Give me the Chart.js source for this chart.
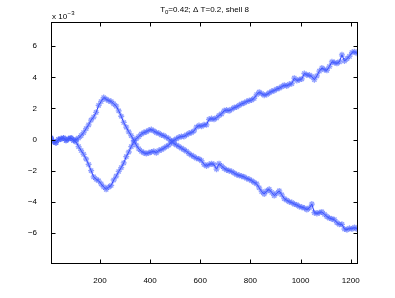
<!DOCTYPE html>
<html lang="en">
<head>
<meta charset="UTF-8">
<title>shell 8</title>
<script src="https://cdn.jsdelivr.net/npm/chart.js"></script>
<style>
    body { margin: 0; background: #fff; }
    #wrap { width: 395px; height: 298px; position: relative; }
</style>
</head>
<body>
<div id="wrap"><canvas id="chart"></canvas></div>
<script>
// sample positions (x axis)
const sampleX = [5, 15, 25, 35, 45, 55, 65, 75, 85, 95, 105, 115, 125, 135, 145, 155, 165, 175, 185, 195,
    205, 215, 225, 235, 245, 255, 265, 275, 285, 295, 305, 315, 325, 335, 345, 355, 365, 375, 385, 395,
    405, 415, 425, 435, 445, 455, 465, 475, 485, 495, 505, 515, 525, 535, 545, 555, 565, 575, 585, 595,
    605, 615, 625, 635, 645, 655, 665, 675, 685, 695, 705, 715, 725, 735, 745, 755, 765, 775, 785, 795,
    805, 815, 825, 835, 845, 855, 865, 875, 885, 895, 905, 915, 925, 935, 945, 955, 965, 975, 985, 995,
    1005, 1015, 1025, 1035, 1045, 1055, 1065, 1075, 1085, 1095, 1105, 1115, 1125, 1135, 1145, 1155, 1165, 1175, 1185, 1195,
    1205, 1215, 1225];

// values in units of 1e-3
const seriesA = [0.1, -0.1, -0.2, 0.0, 0.05, 0.1, -0.05, 0.05, 0.1, -0.05, 0.0, 0.1, 0.25, 0.45, 0.7, 0.95, 1.25, 1.45, 1.75, 2.2,
    2.45, 2.7, 2.6, 2.5, 2.45, 2.3, 2.15, 1.85, 1.5, 1.1, 0.8, 0.5, 0.25, -0.05, -0.35, -0.6, -0.75, -0.85, -0.9, -0.85,
    -0.8, -0.75, -0.85, -0.7, -0.65, -0.55, -0.45, -0.35, -0.15, -0.05, 0.05, 0.15, 0.2, 0.2, 0.3, 0.4, 0.45, 0.55, 0.8, 0.9,
    0.85, 0.95, 0.95, 1.3, 1.35, 1.3, 1.4, 1.55, 1.65, 1.85, 1.9, 1.85, 1.95, 2.05, 2.1, 2.2, 2.3, 2.35, 2.45, 2.5,
    2.55, 2.65, 2.9, 3.05, 2.95, 2.85, 2.9, 3.0, 3.1, 3.15, 3.25, 3.3, 3.4, 3.5, 3.45, 3.55, 3.6, 3.95, 3.8, 3.85,
    3.9, 4.25, 4.15, 4.15, 4.05, 3.85, 4.1, 4.4, 4.6, 4.5, 4.45, 4.7, 5.0, 4.95, 4.9, 5.0, 5.45, 5.05, 5.2, 5.35,
    5.6, 5.65, 5.55];

const seriesB = [0.1, -0.15, -0.2, 0.0, 0.05, 0.1, -0.05, 0.05, 0.1, -0.05, -0.15, -0.45, -0.7, -0.95, -1.25, -1.6, -2.0, -2.4, -2.55, -2.65,
    -2.85, -3.05, -3.2, -3.05, -2.95, -2.6, -2.35, -2.05, -1.8, -1.5, -1.1, -0.8, -0.45, -0.15, 0.05, 0.2, 0.35, 0.45, 0.5, 0.6,
    0.65, 0.55, 0.45, 0.4, 0.3, 0.25, 0.15, 0.05, -0.1, -0.25, -0.35, -0.45, -0.55, -0.65, -0.75, -0.9, -1.0, -1.1, -1.2, -1.25,
    -1.35, -1.6, -1.7, -1.6, -1.55, -1.6, -1.9, -1.55, -1.7, -1.85, -1.95, -2.0, -2.05, -2.15, -2.25, -2.3, -2.35, -2.4, -2.5, -2.55,
    -2.65, -2.75, -2.85, -3.1, -3.35, -3.5, -3.3, -3.2, -3.4, -3.6, -3.45, -3.3, -3.55, -3.8, -3.9, -4.0, -4.05, -4.15, -4.2, -4.3,
    -4.35, -4.4, -4.5, -4.4, -4.15, -4.7, -4.75, -4.7, -4.65, -4.8, -4.95, -5.05, -5.1, -5.15, -5.35, -5.45, -5.45, -5.75, -5.8, -5.7,
    -5.75, -5.65, -5.75];

const xTicks = [200, 400, 600, 800, 1000, 1200];
const yTicks = [-6, -4, -2, 0, 2, 4, 6];

const FONT = 'Liberation Sans, Arial, sans-serif';

function toPoints(ys) {
    return sampleX.map((x, i) => ({ x: x, y: ys[i] }));
}

function lineSet(ys) {
    return {
        data: toPoints(ys),
        borderColor: 'rgb(40,55,255)',
        borderWidth: 1,
        pointStyle: 'star',
        pointRadius: 3,
        pointBorderWidth: 1.3,
        pointBorderColor: 'rgba(70,95,255,0.6)',
        pointBackgroundColor: 'rgba(70,95,255,0.6)',
        tension: 0
    };
}

// MATLAB style frame, inward ticks, title and exponent label
const matlabFrame = {
    id: 'matlabFrame',
    afterDraw(chart) {
        const ctx = chart.ctx;
        const a = chart.chartArea;
        const xs = chart.scales.x, ys = chart.scales.y;
        ctx.save();
        ctx.strokeStyle = '#000';
        ctx.lineWidth = 1;
        const L = Math.round(a.left) + 0.5, R = Math.round(a.right) - 0.5;
        const T = Math.round(a.top) + 0.5, B = Math.round(a.bottom) - 0.5;
        ctx.strokeRect(L, T, R - L, B - T);
        ctx.beginPath();
        xTicks.forEach(v => {
            const px = Math.round(xs.getPixelForValue(v)) + 0.5;
            ctx.moveTo(px, B); ctx.lineTo(px, B - 4);
            ctx.moveTo(px, T); ctx.lineTo(px, T + 4);
        });
        yTicks.forEach(v => {
            const py = Math.round(ys.getPixelForValue(v)) + 0.5;
            ctx.moveTo(L, py); ctx.lineTo(L + 4, py);
            ctx.moveTo(R, py); ctx.lineTo(R - 4, py);
        });
        ctx.stroke();

        // title with subscript
        ctx.fillStyle = '#000';
        ctx.textBaseline = 'alphabetic';
        ctx.textAlign = 'left';
        const big = '8px ' + FONT, small = '6px ' + FONT;
        ctx.font = big;
        const w1 = ctx.measureText('T').width;
        const rest = '=0.42; \u0394 T=0.2, shell 8';
        const w3 = ctx.measureText(rest).width;
        ctx.font = small;
        const w2 = ctx.measureText('0').width;
        let x0 = (a.left + a.right) / 2 - (w1 + w2 + w3) / 2;
        const base = 12;
        ctx.font = big;
        ctx.fillText('T', x0, base);
        ctx.font = small;
        ctx.fillText('0', x0 + w1, base + 2);
        ctx.font = big;
        ctx.fillText(rest, x0 + w1 + w2, base);

        // exponent label
        ctx.font = big;
        ctx.fillText('x 10', a.left + 1, 19);
        const wx = ctx.measureText('x 10').width;
        ctx.font = small;
        ctx.fillText('\u22123', a.left + 1 + wx + 0.5, 15);
        ctx.restore();
    }
};

new Chart(document.getElementById('chart'), {
    type: 'line',
    data: { datasets: [lineSet(seriesA), lineSet(seriesB)] },
    options: {
        responsive: true,
        maintainAspectRatio: false,
        animation: false,
        layout: { padding: { left: 0, top: 22, right: 37, bottom: 0 } },
        plugins: { legend: { display: false }, tooltip: { enabled: false } },
        scales: {
            x: {
                type: 'linear',
                min: 5,
                max: 1229,
                afterBuildTicks: s => { s.ticks = xTicks.map(v => ({ value: v })); },
                afterFit: s => { s.height = 34; },
                grid: { display: false },
                border: { display: false },
                ticks: {
                    font: { family: FONT, size: 8 }, color: '#000', padding: 4, maxRotation: 0,
                    callback: v => String(v)
                }
            },
            y: {
                min: -8,
                max: 7.56,
                afterBuildTicks: s => { s.ticks = yTicks.map(v => ({ value: v })); },
                afterFit: s => { s.width = 51; },
                grid: { display: false },
                border: { display: false },
                ticks: {
                    font: { family: FONT, size: 8 }, color: '#000', padding: 6,
                    callback: v => (v < 0 ? '\u2212' + Math.abs(v) : String(v))
                }
            }
        }
    },
    plugins: [matlabFrame]
});
</script>
</body>
</html>
